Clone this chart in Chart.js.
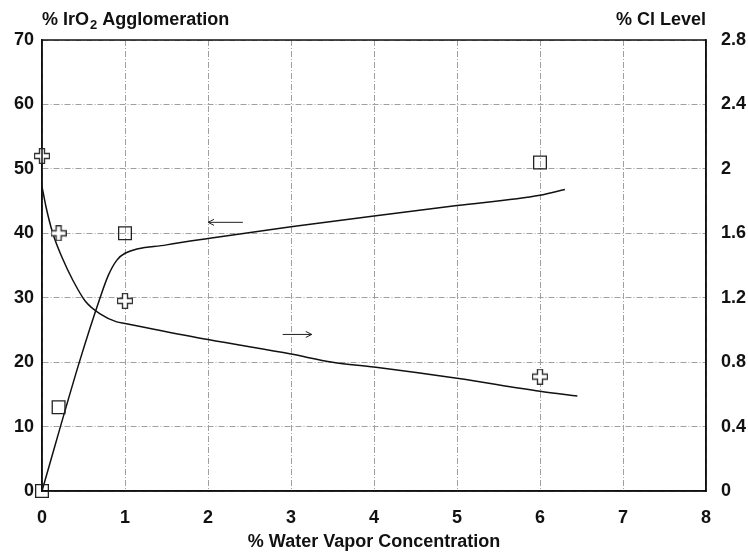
<!DOCTYPE html>
<html>
<head>
<meta charset="utf-8">
<script src="https://cdn.jsdelivr.net/npm/chart.js@4"></script>
<style>
  html, body { margin: 0; padding: 0; background: #fff; }
  #wrap { width: 748px; height: 554px; }
</style>
</head>
<body>
<div id="wrap"><canvas id="chart" width="748" height="554"></canvas></div>
<script>
// Measured points
const aggPointsX = [0, 0.2, 1, 6];
const aggPointsY = [0, 13, 40, 51];
const clPointsX = [0, 0.2, 1, 6];
const clPointsY = [2.08, 1.6, 1.18, 0.71];

// Fitted curves
const aggCurveX = [0, 0.45, 0.7, 0.8, 0.9, 1.0, 1.5, 2, 3, 4, 5, 6, 6.3];
const aggCurveY = [0, 20, 30, 33.5, 35.8, 36.9, 38.2, 39.2, 41, 42.7, 44.3, 45.9, 46.8];
const clCurveX = [0, 0.05, 0.13, 0.25, 0.37, 0.52, 0.7, 0.9, 1.0, 2, 3, 3.5, 4, 5, 6, 6.45];
const clCurveY = [1.89, 1.76, 1.6, 1.44, 1.31, 1.18, 1.10, 1.05, 1.04, 0.94, 0.85, 0.80, 0.77, 0.70, 0.62, 0.59];

// Axis ticks
const xTicks = ['0', '1', '2', '3', '4', '5', '6', '7', '8'];
const leftTicks = ['0', '10', '20', '30', '40', '50', '60', '70'];
const rightTicks = ['0', '0.4', '0.8', '1.2', '1.6', '2', '2.4', '2.8'];

// Arrow annotations [x1, x2, y] in left-axis units
const arrowToLeft = [2.42, 2.0, 41.7];
const arrowToRight = [2.9, 3.25, 24.3];

const FONT = '"Liberation Sans", Arial, sans-serif';
const FSIZE = 18;

function pts(xs, ys) {
  return xs.map((x, i) => ({ x: x, y: ys[i] }));
}

// hollow plus marker
function makeCross() {
  const c = document.createElement('canvas');
  c.width = 16; c.height = 16;
  const g = c.getContext('2d');
  const a = 5.5, b = 10.5, e = 0.5, f = 15.5;
  g.beginPath();
  g.moveTo(a, e); g.lineTo(b, e); g.lineTo(b, a); g.lineTo(f, a);
  g.lineTo(f, b); g.lineTo(b, b); g.lineTo(b, f); g.lineTo(a, f);
  g.lineTo(a, b); g.lineTo(e, b); g.lineTo(e, a); g.lineTo(a, a);
  g.closePath();
  g.fillStyle = '#fff';
  g.fill();
  g.lineWidth = 1.4;
  g.strokeStyle = '#333';
  g.stroke();
  return c;
}

const framePlugin = {
  id: 'frame',
  afterDatasetsDraw(chart) {
    const { ctx, chartArea: ca, scales } = chart;
    ctx.save();
    ctx.strokeStyle = '#111';
    ctx.lineWidth = 1.5;
    ctx.strokeRect(ca.left, ca.top, ca.right - ca.left, ca.bottom - ca.top);

    // arrows
    ctx.lineWidth = 1;
    ctx.strokeStyle = '#222';
    [arrowToLeft, arrowToRight].forEach(ar => {
      const x1 = scales.x.getPixelForValue(ar[0]);
      const x2 = scales.x.getPixelForValue(ar[1]);
      const y = scales.y.getPixelForValue(ar[2]);
      const d = x2 > x1 ? -1 : 1;
      ctx.beginPath();
      ctx.moveTo(x1, y); ctx.lineTo(x2, y);
      ctx.moveTo(x2 + d * 6, y - 3); ctx.lineTo(x2, y); ctx.lineTo(x2 + d * 6, y + 3);
      ctx.stroke();
    });

    // titles
    ctx.fillStyle = '#111';
    ctx.textBaseline = 'alphabetic';
    ctx.font = 'bold ' + FSIZE + 'px ' + FONT;
    let x = ca.left;
    const ty = 25;
    ctx.textAlign = 'left';
    ctx.fillText('% IrO', x, ty);
    x += ctx.measureText('% IrO').width + 1;
    ctx.font = 'bold 13px ' + FONT;
    ctx.fillText('2', x, ty + 4);
    x += ctx.measureText('2').width;
    ctx.font = 'bold ' + FSIZE + 'px ' + FONT;
    ctx.fillText(' Agglomeration', x, ty);

    ctx.textAlign = 'right';
    ctx.fillText('% Cl Level', ca.right, ty);

    ctx.textAlign = 'center';
    ctx.fillText('% Water Vapor Concentration', (ca.left + ca.right) / 2, 547);
    ctx.restore();
  }
};

const gridStyle = {
  color: '#a0a0a0',
  lineWidth: 1,
  drawTicks: false
};
const gridBorder = { display: true, color: '#111', width: 1.5, dash: [6, 2, 1, 2] };
const tickFont = { family: FONT, size: FSIZE, weight: 'bold' };

const cross = makeCross();

new Chart(document.getElementById('chart'), {
  type: 'scatter',
  data: {
    datasets: [
      {
        label: 'agg curve',
        data: pts(aggCurveX, aggCurveY),
        yAxisID: 'y',
        showLine: true,
        borderColor: '#111',
        borderWidth: 1.5,
        pointRadius: 0,
        cubicInterpolationMode: 'monotone',
        order: 3
      },
      {
        label: 'cl curve',
        data: pts(clCurveX, clCurveY),
        yAxisID: 'y2',
        showLine: true,
        borderColor: '#111',
        borderWidth: 1.5,
        pointRadius: 0,
        cubicInterpolationMode: 'monotone',
        order: 3
      },
      {
        label: '% IrO2 Agglomeration',
        data: pts(aggPointsX, aggPointsY),
        yAxisID: 'y',
        pointStyle: 'rect',
        pointRadius: 9,
        backgroundColor: 'rgba(255,255,255,0)',
        borderColor: '#222',
        borderWidth: 1.3,
        order: 1
      },
      {
        label: '% Cl Level',
        data: pts(clPointsX, clPointsY),
        yAxisID: 'y2',
        pointStyle: cross,
        order: 1
      }
    ]
  },
  options: {
    responsive: false,
    animation: false,
    clip: false,
    layout: { padding: { top: 40, left: 0, right: 0, bottom: 0 } },
    plugins: {
      legend: { display: false },
      tooltip: { enabled: false }
    },
    scales: {
      x: {
        type: 'linear',
        min: 0, max: 8,
        ticks: {
          stepSize: 1,
          padding: 16,
          color: '#111',
          font: tickFont,
          callback: (v) => xTicks[v]
        },
        grid: gridStyle,
        border: gridBorder,
        afterFit(s) { s.height = 63; }
      },
      y: {
        position: 'left',
        min: 0, max: 70,
        ticks: {
          stepSize: 10,
          padding: 8,
          color: '#111',
          font: tickFont,
          callback: (v) => leftTicks[Math.round(v / 10)]
        },
        grid: gridStyle,
        border: gridBorder,
        afterFit(s) { s.width = 42; }
      },
      y2: {
        position: 'right',
        min: 0, max: 2.8,
        ticks: {
          stepSize: 0.4,
          padding: 7,
          color: '#111',
          font: tickFont,
          callback: (v) => rightTicks[Math.round(v / 0.4)]
        },
        grid: { display: false },
        border: { display: true, color: '#111', width: 1.5 },
        afterFit(s) { s.width = 42; }
      }
    }
  },
  plugins: [framePlugin]
});
</script>
</body>
</html>
